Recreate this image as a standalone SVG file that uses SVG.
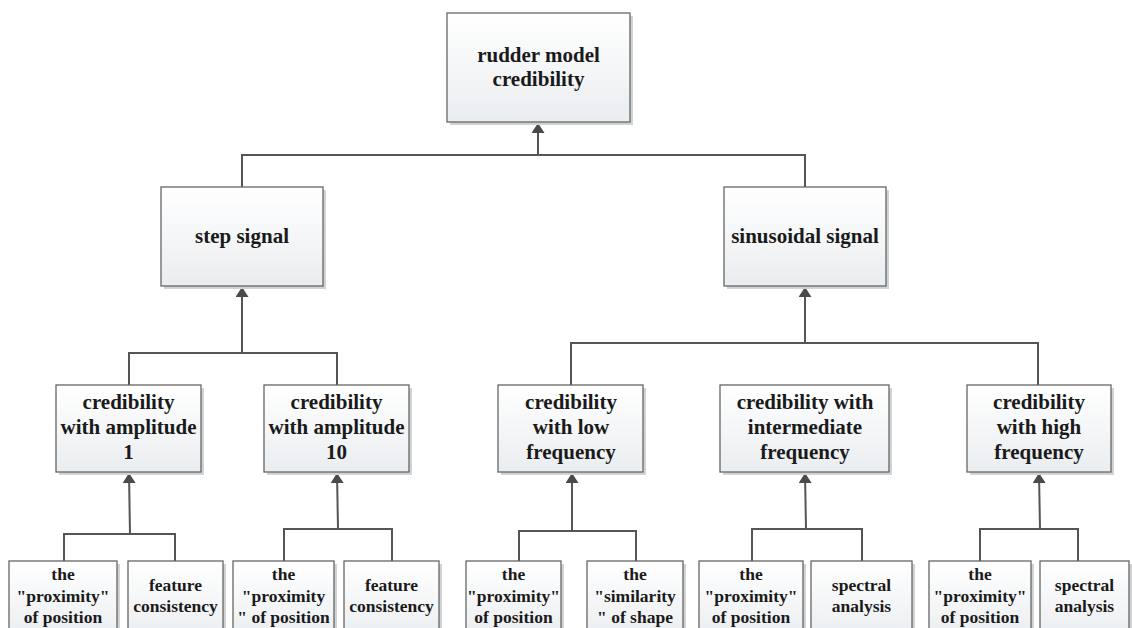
<svg xmlns="http://www.w3.org/2000/svg" width="1132" height="628" viewBox="0 0 1132 628">
  <defs>
    <linearGradient id="boxFill" x1="0" y1="0" x2="0" y2="1">
      <stop offset="0" stop-color="#ffffff"/>
      <stop offset="1" stop-color="#eaedf0"/>
    </linearGradient>
    <marker id="arrow" viewBox="0 0 10 13" refX="10" refY="6.5" markerWidth="10" markerHeight="13" markerUnits="userSpaceOnUse" orient="auto">
      <path d="M0,0 L10,6.5 L0,13 Z" fill="#4a4a4a"/>
    </marker>
    <style>
      .shadow { fill: #d2d3d5; }
      .box { fill: url(#boxFill); stroke: #666; stroke-width: 1.3; }
      .lbl { font-weight: bold; font-size: 21px; fill: #1a1a1a; text-anchor: middle; }
      .sm { font-size: 17.5px; }
      .wire { fill: none; stroke: #555; stroke-width: 2; }
      .arr { fill: none; stroke: #555; stroke-width: 2; marker-end: url(#arrow); }
    </style>
  </defs>
  <rect width="1132" height="628" fill="#ffffff"/>

  <!-- connectors -->
  <g id="connectors">
    <!-- root -->
    <path class="wire" d="M242,187 V155 H805 V187"/>
    <path class="arr" d="M538,155 V123"/>
    <!-- step signal -->
    <path class="wire" d="M129,385 V353 H337 V385"/>
    <path class="arr" d="M242,353 V287"/>
    <!-- sinusoidal signal -->
    <path class="wire" d="M571,385 V343 H1038 V385"/>
    <path class="arr" d="M805,343 V287"/>
    <!-- amplitude 1 -->
    <path class="wire" d="M64,561 V534 H175 V561"/>
    <path class="arr" d="M130,534 L129,473"/>
    <!-- amplitude 10 -->
    <path class="wire" d="M284,561 V529 H392 V561"/>
    <path class="arr" d="M338,529 L337,473"/>
    <!-- low frequency -->
    <path class="wire" d="M519,561 V531 H636 V561"/>
    <path class="arr" d="M572,531 V473"/>
    <!-- intermediate frequency -->
    <path class="wire" d="M752,561 V529 H862 V561"/>
    <path class="arr" d="M806,529 L805,473"/>
    <!-- high frequency -->
    <path class="wire" d="M980,561 V529 H1078 V561"/>
    <path class="arr" d="M1040,529 L1039,473"/>
  </g>

  <g font-family="'Liberation Serif', 'Times New Roman', Times, serif">
  <!-- level 1 -->
  <g id="root">
    <rect class="shadow" x="450" y="16" width="183" height="109"/>
    <rect class="box" x="447" y="13" width="183" height="109"/>
    <text class="lbl" x="538.5" y="62">rudder model</text>
    <text class="lbl" x="538.5" y="86">credibility</text>
  </g>

  <!-- level 2 -->
  <g id="step">
    <rect class="shadow" x="164" y="190" width="162" height="99"/>
    <rect class="box" x="161" y="187" width="162" height="99"/>
    <text class="lbl" x="242" y="243">step signal</text>
  </g>
  <g id="sinus">
    <rect class="shadow" x="727" y="190" width="162" height="99"/>
    <rect class="box" x="724" y="187" width="162" height="99"/>
    <text class="lbl" x="805" y="243">sinusoidal signal</text>
  </g>

  <!-- level 3 -->
  <g id="amp1">
    <rect class="shadow" x="59" y="388" width="145" height="87"/>
    <rect class="box" x="56" y="385" width="145" height="87"/>
    <text class="lbl" x="128.5" y="409">credibility</text>
    <text class="lbl" x="128.5" y="434">with amplitude</text>
    <text class="lbl" x="128.5" y="459">1</text>
  </g>
  <g id="amp10">
    <rect class="shadow" x="267" y="388" width="145" height="87"/>
    <rect class="box" x="264" y="385" width="145" height="87"/>
    <text class="lbl" x="336.5" y="409">credibility</text>
    <text class="lbl" x="336.5" y="434">with amplitude</text>
    <text class="lbl" x="336.5" y="459">10</text>
  </g>
  <g id="lowFreq">
    <rect class="shadow" x="501" y="388" width="145" height="87"/>
    <rect class="box" x="498" y="385" width="145" height="87"/>
    <text class="lbl" x="571" y="409">credibility</text>
    <text class="lbl" x="571" y="434">with low</text>
    <text class="lbl" x="571" y="459">frequency</text>
  </g>
  <g id="midFreq">
    <rect class="shadow" x="723" y="388" width="169" height="87"/>
    <rect class="box" x="720" y="385" width="169" height="87"/>
    <text class="lbl" x="805" y="409">credibility with</text>
    <text class="lbl" x="805" y="434">intermediate</text>
    <text class="lbl" x="805" y="459">frequency</text>
  </g>
  <g id="highFreq">
    <rect class="shadow" x="970" y="388" width="144" height="87"/>
    <rect class="box" x="967" y="385" width="144" height="87"/>
    <text class="lbl" x="1039" y="409">credibility</text>
    <text class="lbl" x="1039" y="434">with high</text>
    <text class="lbl" x="1039" y="459">frequency</text>
  </g>

  <!-- level 4 -->
  <g id="amp1Prox">
    <rect class="shadow" x="12" y="564" width="108" height="80"/>
    <rect class="box" x="9" y="561" width="108" height="80"/>
    <text class="lbl sm" x="63" y="580">the</text>
    <text class="lbl sm" x="63" y="602">"proximity"</text>
    <text class="lbl sm" x="63" y="623">of position</text>
  </g>
  <g id="amp1Feat">
    <rect class="shadow" x="131" y="564" width="95" height="80"/>
    <rect class="box" x="128" y="561" width="95" height="80"/>
    <text class="lbl sm" x="175.5" y="591">feature</text>
    <text class="lbl sm" x="175.5" y="612">consistency</text>
  </g>
  <g id="amp10Prox">
    <rect class="shadow" x="236" y="564" width="101" height="80"/>
    <rect class="box" x="233" y="561" width="101" height="80"/>
    <text class="lbl sm" x="283.5" y="580">the</text>
    <text class="lbl sm" x="283.5" y="602">"proximity</text>
    <text class="lbl sm" x="283.5" y="623">" of position</text>
  </g>
  <g id="amp10Feat">
    <rect class="shadow" x="347" y="564" width="95" height="80"/>
    <rect class="box" x="344" y="561" width="95" height="80"/>
    <text class="lbl sm" x="391.5" y="591">feature</text>
    <text class="lbl sm" x="391.5" y="612">consistency</text>
  </g>
  <g id="lowProx">
    <rect class="shadow" x="469" y="564" width="95" height="80"/>
    <rect class="box" x="466" y="561" width="95" height="80"/>
    <text class="lbl sm" x="513.5" y="580">the</text>
    <text class="lbl sm" x="513.5" y="602">"proximity"</text>
    <text class="lbl sm" x="513.5" y="623">of position</text>
  </g>
  <g id="lowShape">
    <rect class="shadow" x="590" y="564" width="96" height="80"/>
    <rect class="box" x="587" y="561" width="96" height="80"/>
    <text class="lbl sm" x="635" y="580">the</text>
    <text class="lbl sm" x="635" y="602">"similarity</text>
    <text class="lbl sm" x="635" y="623">" of shape</text>
  </g>
  <g id="midProx">
    <rect class="shadow" x="702" y="564" width="104" height="80"/>
    <rect class="box" x="699" y="561" width="104" height="80"/>
    <text class="lbl sm" x="751" y="580">the</text>
    <text class="lbl sm" x="751" y="602">"proximity"</text>
    <text class="lbl sm" x="751" y="623">of position</text>
  </g>
  <g id="midSpec">
    <rect class="shadow" x="814" y="564" width="101" height="80"/>
    <rect class="box" x="811" y="561" width="101" height="80"/>
    <text class="lbl sm" x="861.5" y="591">spectral</text>
    <text class="lbl sm" x="861.5" y="612">analysis</text>
  </g>
  <g id="highProx">
    <rect class="shadow" x="932" y="564" width="102" height="80"/>
    <rect class="box" x="929" y="561" width="102" height="80"/>
    <text class="lbl sm" x="980" y="580">the</text>
    <text class="lbl sm" x="980" y="602">"proximity"</text>
    <text class="lbl sm" x="980" y="623">of position</text>
  </g>
  <g id="highSpec">
    <rect class="shadow" x="1043" y="564" width="89" height="80"/>
    <rect class="box" x="1040" y="561" width="89" height="80"/>
    <text class="lbl sm" x="1084.5" y="591">spectral</text>
    <text class="lbl sm" x="1084.5" y="612">analysis</text>
  </g>
  </g>
</svg>
